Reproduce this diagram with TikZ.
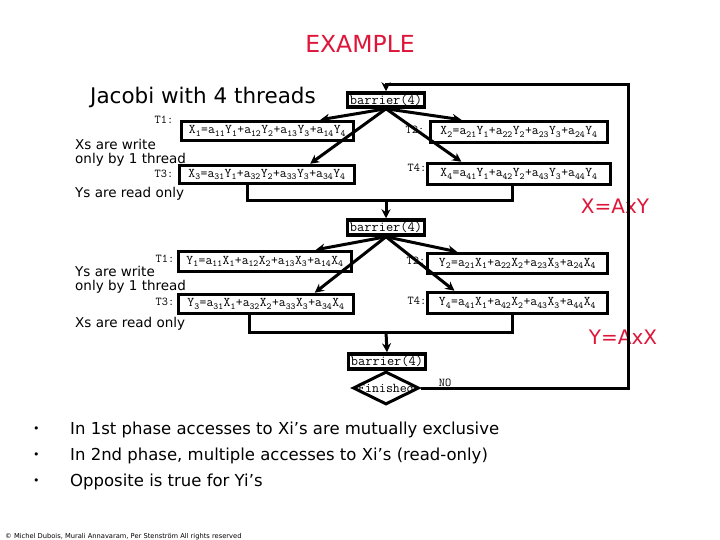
\documentclass[tikz,border=0pt]{standalone}
\usepackage{fontspec}
\setmainfont{DejaVu Sans}
\usetikzlibrary{arrows.meta,shapes.geometric}
\definecolor{exred}{RGB}{222,22,58}
\newcommand\ix[1]{\textsubscript{#1}}

\begin{document}
\begin{tikzpicture}[x=1pt, y=-1pt,
  eqbox/.style={draw, line width=3.5pt, inner sep=0pt, font=\fontsize{13.3}{14}\selectfont\ttfamily},
  barbox/.style={draw, line width=3.5pt, minimum width=77pt, minimum height=14pt, inner sep=0pt, font=\fontsize{14}{14}\selectfont\ttfamily},
  tag/.style={inner sep=0pt, font=\fontsize{12}{13}\selectfont\ttfamily},
  note/.style={anchor=base west, inner sep=0pt, font=\fontsize{13.5}{15}\selectfont},
  bullet/.style={anchor=base west, inner sep=0pt, font=\fontsize{16.5}{18}\selectfont},
  redlab/.style={text=exred, inner sep=0pt, font=\fontsize{20}{22}\selectfont},
  wire/.style={line width=3pt},
  arr/.style={wire, -{Stealth[length=9pt, width=9pt]}}]
  \useasboundingbox (0,0) rectangle (720,540);

  % headings
  \node[redlab, font=\fontsize{23.5}{25}\selectfont] (head) at (360,44) {EXAMPLE};
  \node[anchor=base west, inner sep=0pt, font=\fontsize{21.5}{24}\selectfont] (jac) at (90,104) {Jacobi with 4 threads};

  % phase 1: X = A x Y
  \node[barbox] (b1) at (386,100) {barrier(4)};
  \node[eqbox, minimum width=172pt, minimum height=19pt] (t1) at (267.5,131)
    {X\ix{1}=a\ix{11}Y\ix{1}+a\ix{12}Y\ix{2}+a\ix{13}Y\ix{3}+a\ix{14}Y\ix{4}};
  \node[eqbox, minimum width=175pt, minimum height=18pt] (t3) at (267,174.5)
    {X\ix{3}=a\ix{31}Y\ix{1}+a\ix{32}Y\ix{2}+a\ix{33}Y\ix{3}+a\ix{34}Y\ix{4}};
  \node[eqbox, minimum width=177pt, minimum height=21pt] (t2) at (519,132)
    {X\ix{2}=a\ix{21}Y\ix{1}+a\ix{22}Y\ix{2}+a\ix{23}Y\ix{3}+a\ix{24}Y\ix{4}};
  \node[eqbox, minimum width=183pt, minimum height=21pt] (t4) at (519,174)
    {X\ix{4}=a\ix{41}Y\ix{1}+a\ix{42}Y\ix{2}+a\ix{43}Y\ix{3}+a\ix{44}Y\ix{4}};
  \node[tag] (l1) at (164,120) {T1:};
  \node[tag] (l3) at (164,174) {T3:};
  \node[tag] (l2) at (415,130) {T2:};
  \node[tag] (l4) at (417,168) {T4:};
  \node[note] (n1) at (75,150) {Xs are write};
  \node[note] (n2) at (75,164) {only by 1 thread};
  \node[note] (n3) at (75,198) {Ys are read only};
  \draw[arr] (b1.south) -- (t1.12);
  \draw[arr] (b1.south) -- (t3.14);
  \draw[arr] (b1.south) -- (t2.168);
  \draw[arr] (b1.south) -- (t4.168);
  \coordinate (j1) at (386,201);
  \draw[wire] ([xshift=70pt]t3.south west) |- (j1) -| ([xshift=87pt]t4.south west);
  \node[barbox, minimum height=15pt] (b2) at (386,227.5) {barrier(4)};
  \draw[arr] (j1) -- (b2.north);

  % phase 2: Y = A x X
  \node[eqbox, minimum width=173pt, minimum height=20pt] (y1) at (265,261.5)
    {Y\ix{1}=a\ix{11}X\ix{1}+a\ix{12}X\ix{2}+a\ix{13}X\ix{3}+a\ix{14}X\ix{4}};
  \node[eqbox, minimum width=175pt, minimum height=19pt] (y3) at (266,304)
    {Y\ix{3}=a\ix{31}X\ix{1}+a\ix{32}X\ix{2}+a\ix{33}X\ix{3}+a\ix{34}X\ix{4}};
  \node[eqbox, minimum width=180pt, minimum height=20pt] (y2) at (517.5,263.5)
    {Y\ix{2}=a\ix{21}X\ix{1}+a\ix{22}X\ix{2}+a\ix{23}X\ix{3}+a\ix{24}X\ix{4}};
  \node[eqbox, minimum width=180pt, minimum height=21pt] (y4) at (517.5,303)
    {Y\ix{4}=a\ix{41}X\ix{1}+a\ix{42}X\ix{2}+a\ix{43}X\ix{3}+a\ix{44}X\ix{4}};
  \node[tag] (m1) at (165,259) {T1:};
  \node[tag] (m3) at (165,302) {T3:};
  \node[tag] (m2) at (416,261) {T2:};
  \node[tag] (m4) at (417,301) {T4:};
  \node[note] (n4) at (75,276) {Ys are write};
  \node[note] (n5) at (75,290) {only by 1 thread};
  \node[note] (n6) at (75,327) {Xs are read only};
  \draw[arr] (b2.south) -- (y1.13);
  \draw[arr] (b2.south) -- (y3.13);
  \draw[arr] (b2.south) -- (y2.169);
  \draw[arr] (b2.south) -- (y4.169);
  \coordinate (j2) at (386,332);
  \draw[wire] ([xshift=73pt]y3.south west) |- (j2) -| ([xshift=87pt]y4.south west);
  \node[barbox, minimum height=15pt] (b3) at (387,361.5) {barrier(4)};
  \draw[arr] (j2) -- (b3.north);

  % loop back
  \node[diamond, draw, line width=3pt, minimum width=66pt, minimum height=33pt, inner sep=0pt,
    font=\fontsize{13.5}{14}\selectfont\ttfamily] (fin) at (386,388) {\makebox[0pt]{Finished}};
  \node[tag] (no) at (445,383) {NO};
  \node[redlab] (xay) at (615,206) {X=AxY};
  \node[redlab] (yax) at (623,337) {Y=AxX};
  \coordinate (c1) at (628,85);
  \draw[arr] (fin.east) -| (c1) -| (b1.north);

  % remarks
  \node[bullet, font=\fontsize{11}{12}\selectfont] (d1) at (33,432) {•};
  \node[bullet, font=\fontsize{11}{12}\selectfont] (d2) at (33,458) {•};
  \node[bullet, font=\fontsize{11}{12}\selectfont] (d3) at (33,484) {•};
  \node[bullet] (r1) at (70,434) {In 1st phase accesses to Xi’s are mutually exclusive};
  \node[bullet] (r2) at (70,460) {In 2nd phase, multiple accesses to Xi’s (read-only)};
  \node[bullet] (r3) at (70,486) {Opposite is true for Yi’s};
  \node[anchor=base west, inner sep=0pt, font=\fontsize{6.7}{7}\selectfont] (copy) at (5,538)
    {© Michel Dubois, Murali Annavaram, Per Stenström All rights reserved};
\end{tikzpicture}
\end{document}
